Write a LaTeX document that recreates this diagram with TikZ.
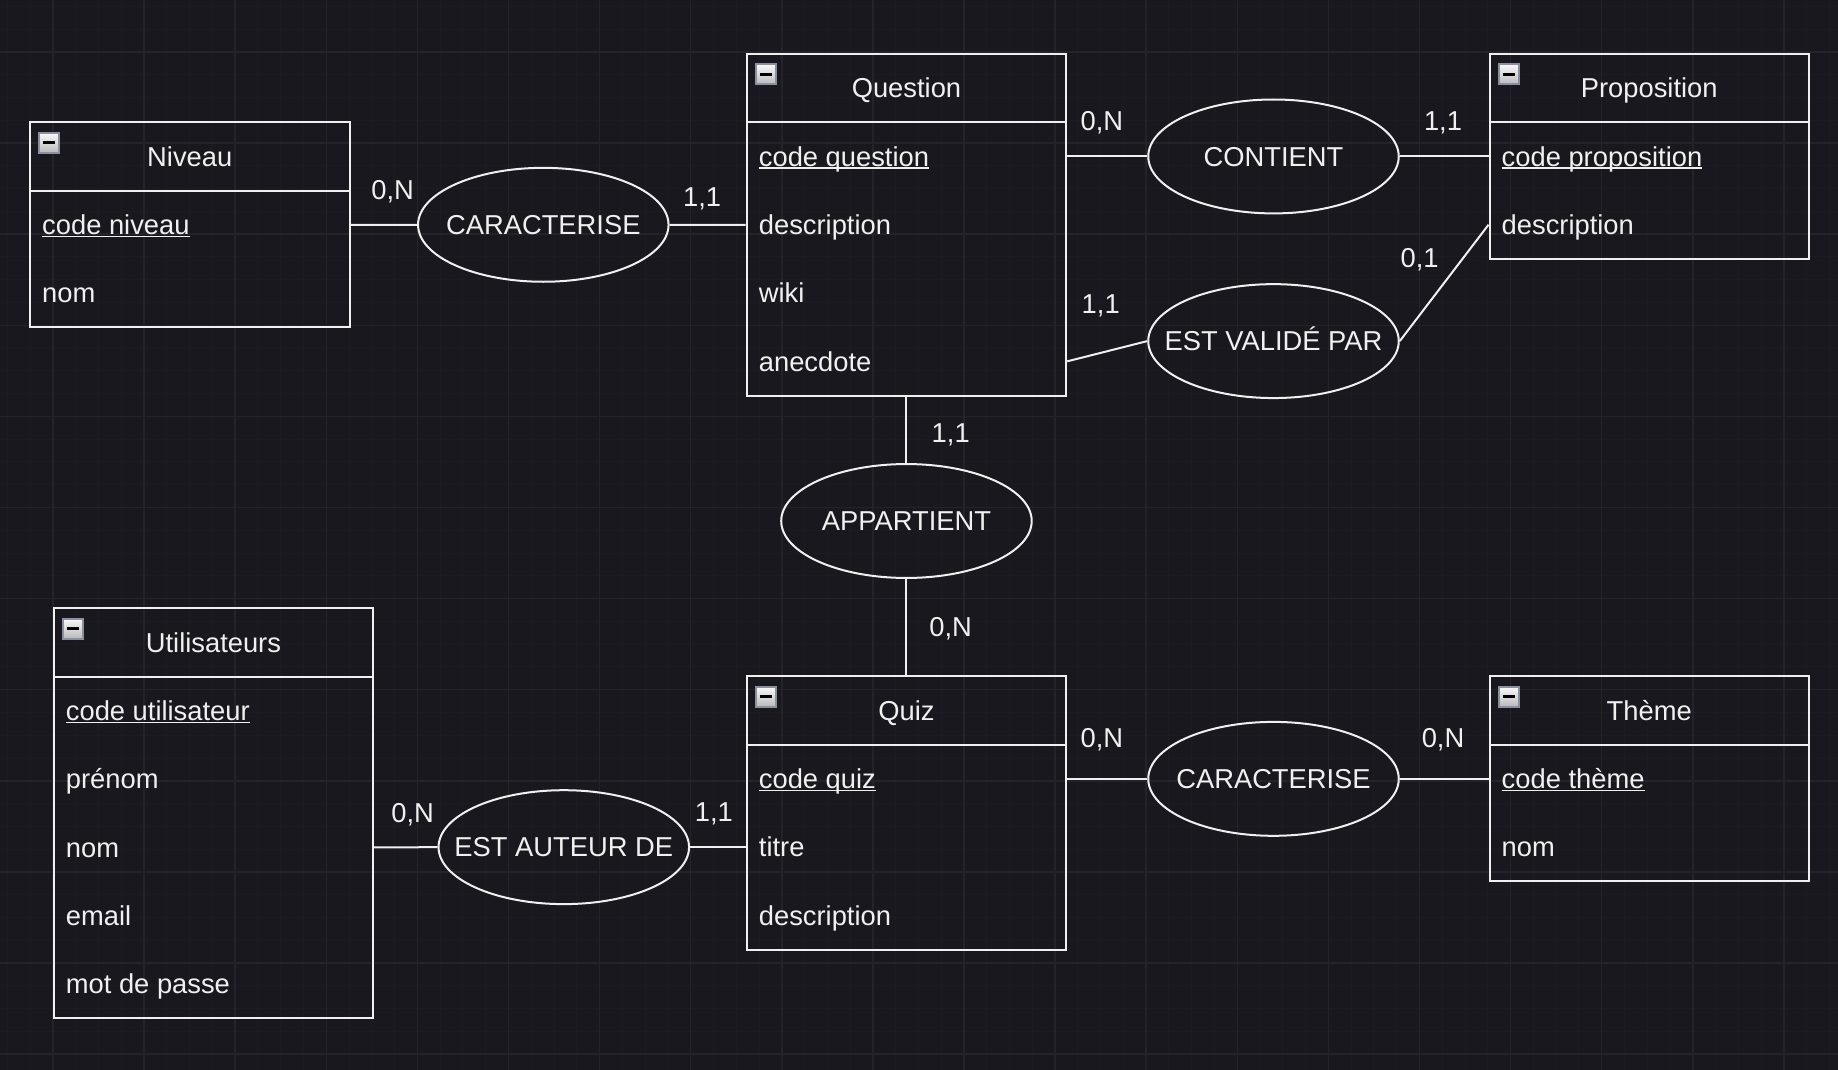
\documentclass[tikz,border=0pt]{standalone}
\usepackage{fontspec}
\setmainfont{Liberation Sans}
\usetikzlibrary{shapes.geometric,calc}
\definecolor{bg}{HTML}{19181F}
\definecolor{gridmin}{HTML}{1C1B22}
\definecolor{gridmaj}{HTML}{242329}
\definecolor{fg}{HTML}{F0F0F0}
\definecolor{iconborder}{HTML}{8A90A0}
\newcommand\ulattr[1]{\setbox0\hbox{#1}\rlap{\color{fg}\rule[-2.8pt]{\wd0}{1.6pt}}\box0}
\tikzset{
  ent/.style={draw=fg, line width=2pt, rectangle, minimum width=319.5pt, inner sep=0pt},
  ehead/.style={ent, minimum height=68.3pt, text=fg, font=\fontsize{27.33}{32}\selectfont, text height=19.6pt, text depth=0pt},
  ebody/.style={ent, minimum height=#1},
  attr/.style={anchor=west, inner sep=0pt, text=fg, font=\fontsize{27.33}{32}\selectfont, text height=19.6pt, text depth=0pt},
  card/.style={inner sep=0pt, text=fg, font=\fontsize{27.33}{32}\selectfont, text height=19.6pt, text depth=0pt},
  rel/.style={ellipse, draw=fg, line width=2pt, minimum width=250.5pt, minimum height=113.9pt, inner sep=0pt,
    label={[card]center:#1}},
  conn/.style={draw=fg, line width=2pt},
  icon/.style={rectangle, draw=iconborder, line width=2pt, top color=white!95!gray, bottom color=gray!55!white, minimum width=20pt, minimum height=20pt, inner sep=0pt,
    path picture={\draw[black, line width=3pt] ([xshift=-6pt]path picture bounding box.center) -- ([xshift=6pt]path picture bounding box.center);}},
}
\begin{document}
\begin{tikzpicture}[x=1pt, y=-1pt]
\fill[bg] (0,0) rectangle (1838,1070);
\useasboundingbox (0,0) rectangle (1838,1070);
% grid
\foreach \i in {0,...,82} {
  \pgfmathsetmacro\gx{7.45+\i*22.775}
  \draw[gridmin, line width=1pt] (\gx,0) -- (\gx,1070);
}
\foreach \i in {0,...,48} {
  \pgfmathsetmacro\gy{6.45+\i*22.775}
  \draw[gridmin, line width=1pt] (0,\gy) -- (1838,\gy);
}
\foreach \i in {0,...,21} {
  \pgfmathsetmacro\gx{-38.1+\i*91.1}
  \draw[gridmaj, line width=1.5pt] (\gx,0) -- (\gx,1070);
}
\foreach \i in {0,...,12} {
  \pgfmathsetmacro\gy{-39.1+\i*91.1}
  \draw[gridmaj, line width=1.5pt] (0,\gy) -- (1838,\gy);
}

% Niveau
\node[ehead] (nh) at (189.75,156.55) {Niveau};
\node[ebody=136.6pt] (nb) at (189.75,259.0) {};
\node[icon] (ni) at (49.2,142.9) {};
\node[attr] (n1) at (42,224.85) {\ulattr{code niveau}};
\node[attr] (n2) at (42,293.15) {nom};

% Question
\node[ehead] (qh) at (906.45,88.15) {Question};
\node[ebody=273.2pt] (qb) at (906.45,258.9) {};
\node[icon] (qi) at (765.9,74.5) {};
\node[attr] (q1) at (758.7,156.45) {\ulattr{code question}};
\node[attr] (q2) at (758.7,224.75) {description};
\node[attr] (q3) at (758.7,293.05) {wiki};
\node[attr] (q4) at (758.7,361.35) {anecdote};

% Proposition
\node[ehead] (ph) at (1649.25,88.15) {Proposition};
\node[ebody=136.6pt] (pb) at (1649.25,190.6) {};
\node[icon] (pi) at (1508.7,74.5) {};
\node[attr] (p1) at (1501.5,156.45) {\ulattr{code proposition}};
\node[attr] (p2) at (1501.5,224.75) {description};

% Utilisateurs
\node[ehead] (uh) at (213.45,642.55) {Utilisateurs};
\node[ebody=341.5pt] (ub) at (213.45,847.45) {};
\node[icon] (ui) at (72.9,628.9) {};
\node[attr] (u1) at (65.7,710.85) {\ulattr{code utilisateur}};
\node[attr] (u2) at (65.7,779.15) {prénom};
\node[attr] (u3) at (65.7,847.45) {nom};
\node[attr] (u4) at (65.7,915.75) {email};
\node[attr] (u5) at (65.7,984.05) {mot de passe};

% Quiz
\node[ehead] (zh) at (906.45,710.55) {Quiz};
\node[ebody=204.9pt] (zb) at (906.45,847.15) {};
\node[icon] (zi) at (765.9,696.9) {};
\node[attr] (z1) at (758.7,778.85) {\ulattr{code quiz}};
\node[attr] (z2) at (758.7,847.15) {titre};
\node[attr] (z3) at (758.7,915.45) {description};

% Theme
\node[ehead] (th) at (1649.25,710.55) {Thème};
\node[ebody=136.6pt] (tb) at (1649.25,813.0) {};
\node[icon] (ti) at (1508.7,696.9) {};
\node[attr] (t1) at (1501.5,778.85) {\ulattr{code thème}};
\node[attr] (t2) at (1501.5,847.15) {nom};

% relations
\node[rel=CARACTERISE] (car1) at (543.3,224.8) {};
\node[rel=CONTIENT] (cont) at (1273.5,156.45) {};
\node[rel=EST VALIDÉ PAR] (evp) at (1273.5,341.1) {};
\node[rel=APPARTIENT] (app) at (906.45,521) {};
\node[rel=CARACTERISE] (car2) at (1273.5,778.85) {};
\node[rel=EST AUTEUR DE] (ead) at (563.8,847.15) {};

% connectors
\draw[conn] (n1 -| nb.east) -- (car1.west);
\draw[conn] (car1.east) -- (q2 -| qb.west);
\draw[conn] (q1 -| qb.east) -- (cont.west);
\draw[conn] (cont.east) -- (p1 -| pb.west);
\draw[conn] (q4 -| qb.east) -- (evp.west);
\draw[conn] (evp.east) -- (p2 -| pb.west);
\draw[conn] (qb.south) -- (app.north);
\draw[conn] (app.south) -- (zh.north);
\draw[conn] (z1 -| zb.east) -- (car2.west);
\draw[conn] (car2.east) -- (t1 -| tb.west);
\draw[conn] (u3 -| ub.east) -- (ead.west);
\draw[conn] (ead.east) -- (z2 -| zb.west);

% cardinalities
\node[card] (c1) at (392.7,189.9) {0,N};
\node[card] (c2) at (702.1,196.9) {1,1};
\node[card] (c3) at (1101.9,120.7) {0,N};
\node[card] (c4) at (1443,120.7) {1,1};
\node[card] (c5) at (1419.6,257.9) {0,1};
\node[card] (c6) at (1100.7,303.6) {1,1};
\node[card] (c7) at (950.7,432.5) {1,1};
\node[card] (c8) at (950.7,627.1) {0,N};
\node[card] (c9) at (1101.9,737.3) {0,N};
\node[card] (c10) at (1443,737.3) {0,N};
\node[card] (c11) at (412.6,812.3) {0,N};
\node[card] (c12) at (713.9,811.2) {1,1};
\end{tikzpicture}
\end{document}
